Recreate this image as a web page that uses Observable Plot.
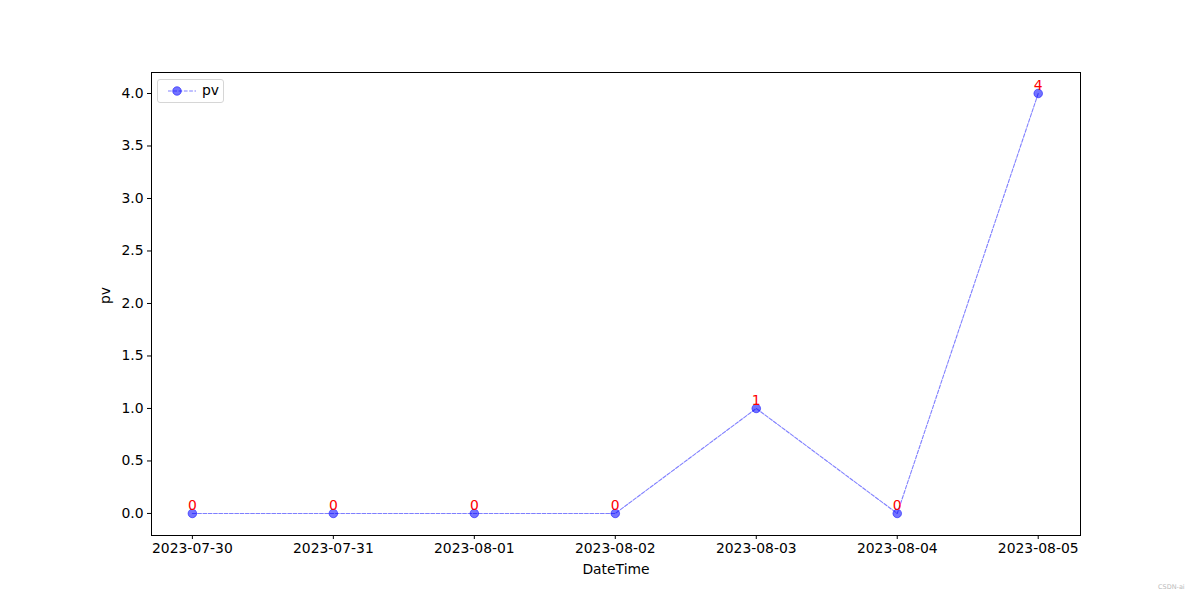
<!DOCTYPE html>
<html>
<head>
<meta charset="utf-8">
<script src="https://cdn.jsdelivr.net/npm/d3@7"></script>
<script src="https://cdn.jsdelivr.net/npm/@observablehq/plot@0.6"></script>
<style>
  html, body { margin: 0; padding: 0; background: #fff; }
  #wrap { position: relative; width: 1200px; height: 600px; font-family: "DejaVu Sans", sans-serif; }
  #legend { position: absolute; left: 157px; top: 79px; width: 67px; height: 24px; border: 1px solid #d6d6d6; border-radius: 3px; background: rgba(255,255,255,0.8); box-sizing: border-box; }
  #legend svg { position: absolute; left: 0; top: 0; }
  #legend span { position: absolute; left: 44px; top: 2px; font-size: 13.9px; color: #000; }
  #wm { position: absolute; left: 1158px; top: 583px; font-size: 6.5px; color: #bbb; }
</style>
</head>
<body>
<div id="wrap">
  <div id="chart"></div>
  <div id="legend">
    <svg width="44" height="22"><line x1="10" x2="38" y1="11" y2="11" stroke="blue" stroke-opacity="0.5" stroke-dasharray="3.7,1.6" stroke-width="1.2"/><circle cx="19" cy="11" r="4.3" fill="blue" fill-opacity="0.55" stroke="blue" stroke-opacity="0.5"/></svg>
    <span>pv</span>
  </div>
  <div id="wm">CSDN-ai</div>
</div>
<script>
const dates = ["2023-07-30","2023-07-31","2023-08-01","2023-08-02","2023-08-03","2023-08-04","2023-08-05"];
const pv = [0, 0, 0, 0, 1, 0, 4];
const yTicks = [0, 0.5, 1, 1.5, 2, 2.5, 3, 3.5, 4];

const data = dates.map((d, i) => ({date: new Date(d + "T00:00:00Z"), pv: pv[i]}));
const day = 864e5;
const x0 = data[0].date.getTime(), x1 = data[data.length - 1].date.getTime();
const fs = 13.9;

const chart = Plot.plot({
  width: 1200,
  height: 600,
  marginLeft: 151,
  marginRight: 120,
  marginTop: 72,
  marginBottom: 65,
  style: {fontFamily: "DejaVu Sans, sans-serif", fontSize: fs + "px", color: "#000", background: "#fff"},
  x: {type: "utc", domain: [new Date(x0 - 0.29 * day), new Date(x1 + 0.3 * day)], label: null},
  y: {domain: [-0.21, 4.2], label: null},
  marks: [
    Plot.frame({stroke: "#000", strokeWidth: 1}),
    Plot.axisX({ticks: data.map(d => d.date), tickFormat: d3.utcFormat("%Y-%m-%d"), tickSize: 4, tickPadding: 4, label: null, fontSize: fs}),
    Plot.axisY({ticks: yTicks, tickFormat: d3.format(".1f"), tickSize: 4, tickPadding: 4, label: null, fontSize: fs}),
    Plot.text(["DateTime"], {frameAnchor: "bottom", dy: 38, fontSize: fs}),
    Plot.text(["pv"], {frameAnchor: "left", dx: -46, rotate: -90, fontSize: fs}),
    Plot.line(data, {x: "date", y: "pv", stroke: "blue", strokeOpacity: 0.5, strokeWidth: 1.1, strokeDasharray: "3.7,1.6"}),
    Plot.dot(data, {x: "date", y: "pv", r: 4.3, fill: "blue", fillOpacity: 0.55, stroke: "blue", strokeOpacity: 0.5, strokeWidth: 1}),
    Plot.text(data, {x: "date", y: "pv", text: d => String(d.pv), fill: "red", fontSize: fs, dy: -8})
  ]
});
document.getElementById("chart").appendChild(chart);
</script>
</body>
</html>
